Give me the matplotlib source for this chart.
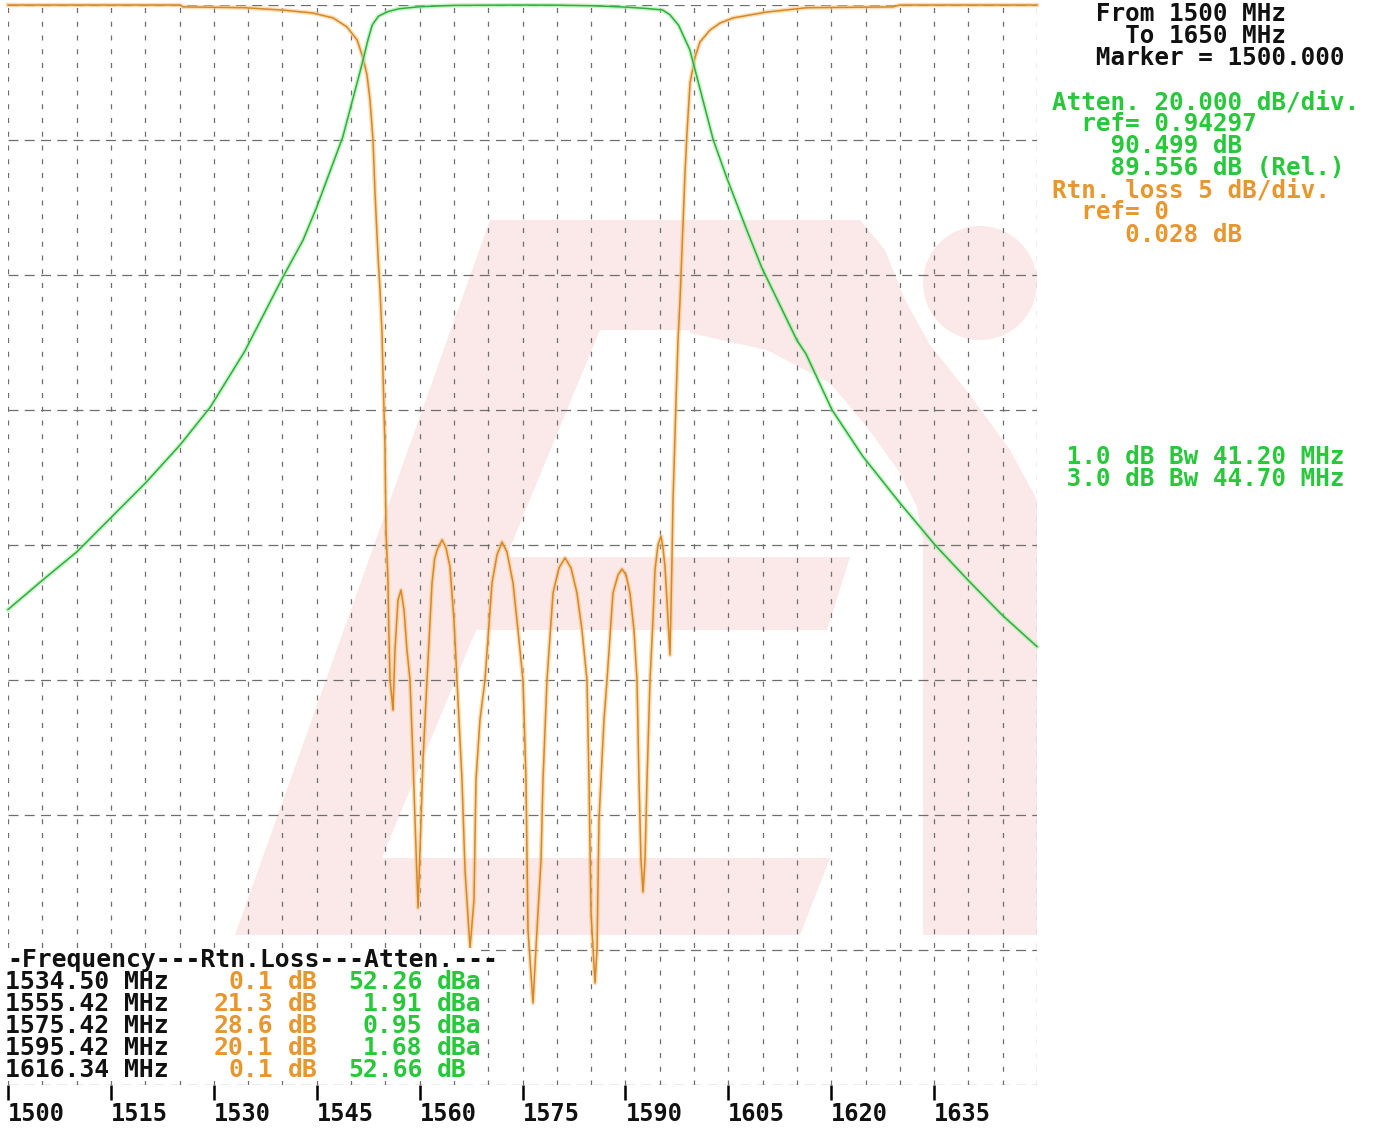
import numpy as np
import matplotlib.pyplot as plt
from matplotlib.patches import Polygon, Circle, Rectangle

W, H = 1373, 1129

# attenuation trace (green), MHz / dB
att_freq = [1500.0, 1505.1, 1510.1, 1514.9, 1520.0, 1525.1, 1529.5, 1534.5, 1540.1,
            1543.0, 1545.0, 1548.8, 1551.3, 1551.75, 1552.5, 1553.1, 1554.0, 1555.42,
            1557.0, 1560.0, 1565.0, 1570.0, 1575.42, 1580.0, 1585.0, 1590.0, 1593.0,
            1595.42, 1596.5, 1597.75, 1599.4, 1602.8, 1604.8, 1607.7, 1609.9, 1615.0,
            1616.34, 1620.1, 1624.6, 1630.0, 1635.1, 1639.9, 1644.9, 1650.0]
att_db = [90.5, 86.1, 81.9, 77.0, 71.8, 66.1, 60.5, 52.26, 41.2,
          35.8, 30.9, 20.5, 10.9, 9.1, 6.0, 3.9, 2.6, 1.91,
          1.5, 1.2, 1.0, 0.97, 0.95, 0.97, 1.05, 1.25, 1.45,
          1.68, 2.4, 3.94, 7.6, 20.9, 26.6, 34.3, 39.9, 50.6,
          52.66, 60.9, 67.8, 74.7, 80.9, 86.1, 91.3, 96.0]

# return loss trace (orange), MHz / dB
rl_freq = [1500.0, 1525.1, 1525.5, 1534.5, 1540.1, 1544.5, 1547.4, 1549.4, 1550.9,
           1551.75, 1552.33, 1552.77, 1553.21, 1553.5, 1553.94, 1554.23, 1554.52,
           1554.66, 1554.96, 1555.1, 1555.39, 1555.5, 1555.69, 1555.98, 1556.12,
           1556.41, 1556.85, 1557.29, 1557.73, 1558.16, 1558.6, 1559.04, 1559.48,
           1559.77, 1560.06, 1560.5, 1561.08, 1561.81, 1562.2, 1562.54, 1563.27, 1563.85,
           1564.43, 1565.01, 1565.45, 1566.18, 1566.62, 1567.35, 1567.93, 1568.22,
           1568.8, 1569.53, 1570.55, 1571.28, 1572.01, 1572.74, 1573.62, 1574.34,
           1575.07, 1575.51, 1575.8, 1576.53, 1577.11, 1577.7, 1577.99, 1578.57,
           1579.45, 1580.32, 1581.2, 1582.07, 1582.94, 1583.67, 1584.4, 1584.69,
           1584.99, 1585.57, 1585.86, 1586.15, 1586.44, 1586.88, 1587.32, 1588.19,
           1588.92, 1589.5, 1590.09, 1590.67, 1591.25, 1591.69, 1591.98, 1592.27,
           1592.57, 1592.86, 1593.15, 1593.59, 1594.02, 1594.31, 1594.75, 1595.19,
           1595.48, 1595.77, 1596.06, 1596.5, 1596.79, 1596.94, 1597.08, 1597.38,
           1597.67, 1597.96, 1598.25, 1598.69, 1598.98, 1599.42, 1600.15, 1600.87,
           1602.33, 1603.79, 1605.69, 1610.64, 1616.47, 1629.0, 1630.0, 1650.0]
rl_db = [0.0, 0.0, 0.07, 0.1, 0.19, 0.3, 0.48, 0.81, 1.3,
         1.96, 2.59, 3.52, 5.0, 6.96, 9.3, 10.56, 12.15,
         13.59, 16.44, 19.48, 21.3, 23.0, 25.0, 25.74, 26.11,
         23.89, 22.04, 21.67, 22.41, 23.89, 25.0, 27.96, 31.3,
         33.44, 31.3, 27.96, 25.0, 21.41, 20.5, 20.19, 19.81, 20.11,
         20.81, 22.78, 25.0, 28.7, 32.04, 34.93, 33.15, 28.7,
         26.48, 25.0, 21.41, 20.37, 19.89, 20.26, 21.41, 23.15,
         25.0, 28.7, 34.26, 36.96, 34.26, 31.67, 28.7, 25.0,
         21.78, 20.85, 20.48, 20.85, 21.78, 23.15, 25.0, 28.7,
         33.63, 36.22, 35.0, 30.19, 28.7, 26.48, 25.0, 21.78,
         21.11, 20.89, 21.11, 21.78, 23.15, 25.0, 28.7, 31.67,
         32.85, 31.67, 28.7, 25.0, 22.78, 20.93, 20.0, 19.67,
         20.11, 20.81, 22.04, 24.07, 20.56, 18.33, 17.22, 14.63,
         12.41, 10.93, 9.07, 6.22, 4.74, 2.89, 1.93, 1.37,
         0.93, 0.67, 0.48, 0.26, 0.1, 0.07, 0.0, 0.0]

freq_ticks = [1500, 1515, 1530, 1545, 1560, 1575, 1590, 1605, 1620, 1635]

marker_freq = ['1534.50', '1555.42', '1575.42', '1595.42', '1616.34']
marker_rl = ['0.1', '21.3', '28.6', '20.1', '0.1']
marker_att = ['52.26', '1.91', '0.95', '1.68', '52.66']
marker_unit = ['dBa', 'dBa', 'dBa', 'dBa', 'dB']

att_ref = 0.94297
att_div = 20.0
rl_div = 5.0

GREEN_TXT = '#27c83a'
ORANGE_TXT = '#e8962e'
BLACK_TXT = '#111111'
PINK = '#fbe8e8'
mono = dict(family='DejaVu Sans Mono', weight='bold')

fig = plt.figure(figsize=(W / 100, H / 100), dpi=100)

# faint watermark logo behind the grid
bg = fig.add_axes([0, 0, 1, 1], zorder=0)
bg.set_xlim(0, W)
bg.set_ylim(H, 0)
bg.axis('off')
shapes = [
    [(235, 935), (350, 935), (600, 330), (700, 330), (700, 220), (490, 220)],
    [(690, 220), (860, 220), (885, 250), (905, 300), (930, 345), (970, 395),
     (1010, 450), (1037, 500), (1037, 935), (923, 935), (923, 540), (917, 507),
     (900, 473), (867, 427), (830, 383), (767, 350), (690, 333)],
    [(500, 557), (850, 557), (827, 630), (470, 630)],
    [(300, 858), (830, 858), (800, 935), (270, 935)],
]
for pts in shapes:
    bg.add_patch(Polygon(pts, closed=True, fc=PINK, ec='none'))
bg.add_patch(Circle((980, 283), 57, fc=PINK, ec='none'))

ax = fig.add_axes([8 / W, 1 - 1085 / H, 1029 / W, 1080 / H], zorder=1)
ax.patch.set_visible(False)
ax.set_xlim(1500, 1650)
ax.set_ylim(8 * rl_div, 0)
ax2 = ax.twinx()
ax2.set_ylim(att_ref + 8 * att_div, att_ref)
for a in (ax, ax2):
    for s in a.spines.values():
        s.set_visible(False)
ax2.set_yticks([])

ax.set_yticks(np.arange(0, 8 * rl_div + 1, rl_div))
ax.tick_params(axis='y', left=False, labelleft=False)
ax.set_xticks(freq_ticks)
ax.set_xticks(np.arange(1500, 1651, 5), minor=True)
ax.set_xticklabels([str(t) for t in freq_ticks], ha='left', fontsize=17, color=BLACK_TXT, **mono)
ax.tick_params(axis='x', which='major', length=11, width=1.8, color='black', pad=1)
ax.tick_params(axis='x', which='minor', length=0)
ax.grid(axis='x', which='both', color='#6e6e6e', lw=0.9, ls=(0, (4, 7)))
ax.grid(axis='y', which='major', color='#6e6e6e', lw=0.9, ls=(0, (8, 5)))

# traces
ax.plot(rl_freq, rl_db, color='#f6c888', lw=3.2, alpha=0.6, clip_on=False)
ax.plot(rl_freq, rl_db, color='#d68826', lw=1.1, clip_on=False)
ax2.plot(att_freq, att_db, color='#a6eea6', lw=3.2, alpha=0.6, clip_on=False)
ax2.plot(att_freq, att_db, color='#2fae3e', lw=1.1, clip_on=False)


def put(x, y, s, color, size=17.5, ha='left'):
    fig.text(x / W, 1 - y / H, s, color=color, fontsize=size, ha=ha, va='center',
             zorder=5, **mono)


# header block on the right
put(1052, 14, '   From 1500 MHz', BLACK_TXT)
put(1052, 36, '     To 1650 MHz', BLACK_TXT)
put(1052, 58, '   Marker = 1500.000', BLACK_TXT)
put(1052, 102, 'Atten. 20.000 dB/div.', GREEN_TXT)
put(1052, 124, '  ref= 0.94297', GREEN_TXT)
put(1052, 146, '    90.499 dB', GREEN_TXT)
put(1052, 168, '    89.556 dB (Rel.)', GREEN_TXT)
put(1052, 190, 'Rtn. loss 5 dB/div.', ORANGE_TXT)
put(1052, 212, '  ref= 0', ORANGE_TXT)
put(1052, 235, '     0.028 dB', ORANGE_TXT)
put(1052, 457, ' 1.0 dB Bw 41.20 MHz', GREEN_TXT)
put(1052, 479, ' 3.0 dB Bw 44.70 MHz', GREEN_TXT)

# marker table at bottom left
cw = 14.9
fig.add_artist(Rectangle((0, 1 - 1081 / H), 481 / W, 133 / H, transform=fig.transFigure,
                         fc='white', ec='none', zorder=4))
put(7, 960, '-Frequency---Rtn.Loss---Atten.---', BLACK_TXT, 17.8)
for i in range(len(marker_freq)):
    y = 982 + 22 * i
    put(5, y, marker_freq[i] + ' MHz', BLACK_TXT, 17.8)
    put(5 + 18 * cw, y, marker_rl[i], ORANGE_TXT, 17.8, ha='right')
    put(5 + 19 * cw, y, 'dB', ORANGE_TXT, 17.8)
    put(5 + 28 * cw, y, marker_att[i], GREEN_TXT, 17.8, ha='right')
    put(5 + 29 * cw, y, marker_unit[i], GREEN_TXT, 17.8)

fig.savefig('out.png', dpi=100, facecolor='white')
